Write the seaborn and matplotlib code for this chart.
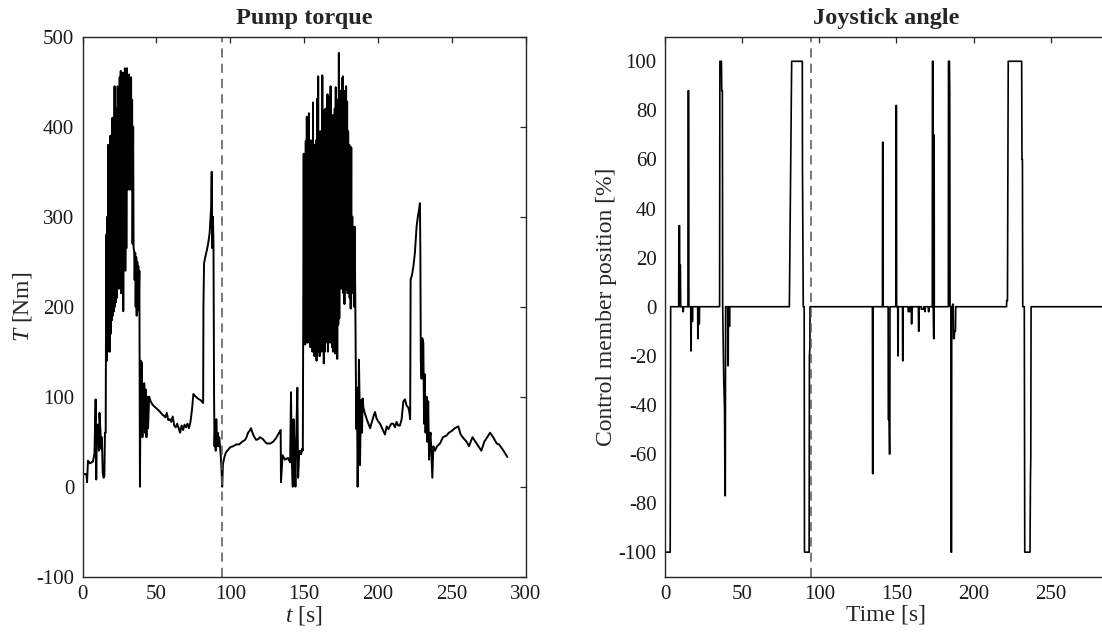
import numpy as np
import pandas as pd
import matplotlib
matplotlib.use('Agg')
import matplotlib.pyplot as plt
import seaborn as sns

sns.set_style('white')
plt.rcParams['font.family'] = ['Liberation Serif', 'DejaVu Serif']
plt.rcParams['mathtext.fontset'] = 'custom'
plt.rcParams['mathtext.rm'] = 'Liberation Serif'
plt.rcParams['mathtext.it'] = 'Liberation Serif:italic'
plt.rcParams['axes.unicode_minus'] = False

# ---- pump torque ----
t_start = [0, 2.5, 3.0, 3.6, 5.0, 7.0, 8.0, 8.8, 9.2, 9.6, 10.3, 11.0, 11.4, 12.0, 12.5, 13.0, 13.6, 14.2, 14.7, 15.1]
T_start = [14, 14, 5, 29, 26, 28, 37, 97, 8, 60, 69, 40, 82, 64, 42, 55, 15, 10, 12, 60]

t_burst1 = [15.6, 16.0, 16.3, 16.7, 17.0, 17.4, 17.7, 18.1, 18.4, 18.8, 19.1, 19.5, 19.8, 20.2, 20.5,
            20.9, 21.2, 21.6, 21.9, 22.3, 22.6, 23.0, 23.3, 23.7, 24.0, 24.4, 24.7, 25.1, 25.4, 25.8,
            26.1, 26.5, 26.8, 27.2, 27.5, 27.9, 28.2, 28.6, 28.9, 29.3, 29.6, 30.0, 30.3, 30.7, 31.0,
            31.4, 31.7, 32.1, 32.4, 32.8, 33.1, 33.5, 33.8, 34.2, 34.5, 34.9, 35.2, 35.6, 35.9, 36.3,
            36.6, 37.0, 37.3, 37.7, 38.0, 38.4]
T_burst1 = [60, 280, 140, 300, 150, 380, 160, 340, 150, 390, 170, 360, 185, 410, 190,
            380, 195, 445, 200, 400, 205, 420, 210, 445, 230, 430, 220, 455, 240, 462,
            215, 440, 230, 460, 195, 450, 250, 465, 240, 455, 265, 465, 330, 450, 335,
            458, 330, 448, 340, 455, 330, 430, 270, 400, 265, 262, 230, 260, 200, 255,
            190, 250, 210, 245, 196, 240]

t_mid1 = [38.8, 39.3, 39.7, 40.1, 40.5, 40.9, 41.3, 41.7, 42.2, 42.7, 43.2, 43.8, 44.3, 45, 46, 47, 48,
          50, 52, 53, 54, 55, 56, 57, 58, 59, 60, 61, 62, 63, 64, 65, 66, 67, 68, 69, 70, 71, 72,
          73, 74, 75, 76, 78, 80, 81.6]
T_mid1 = [0, 140, 60, 138, 55, 110, 70, 115, 60, 108, 55, 100, 65, 100, 95, 92, 90,
          87, 84, 82, 80, 79, 77, 82, 74, 75, 72, 78, 68, 66, 70, 65, 60, 68, 63, 69, 66, 70, 65,
          72, 85, 103, 101, 98, 96, 93]

t_peak1 = [81.8, 82.2, 83, 84, 85, 86, 86.6, 87.0, 87.4, 87.8, 88.2, 88.6, 89.0, 89.3, 89.7, 90.1,
           90.5, 91.0, 91.5, 92.0, 92.5, 93.0, 93.5, 94.0, 94.5]
T_peak1 = [200, 248, 255, 262, 270, 282, 300, 310, 350, 265, 300, 270, 100, 45, 70, 40,
           75, 45, 60, 45, 55, 45, 35, 20, 0]

t_mid2 = [95, 96, 97, 98, 100, 102, 104, 106, 108, 110, 111, 112, 113, 114, 115, 116, 117.5, 119,
          120, 121, 122, 123, 124, 125, 127, 129, 131, 133, 134.1,
          134.3, 135.4, 137, 139, 140.5, 141.1, 141.6, 142.3, 142.8, 143.5, 144.1, 144.7, 145.4,
          145.9, 146.6, 147.2, 148, 148.6, 149.1]
T_mid2 = [25, 33, 38, 40, 44, 45, 47, 47, 50, 52, 55, 60, 62, 65, 60, 56, 52, 53,
          55, 54, 53, 51, 49, 48, 48, 50, 54, 60, 63,
          5, 35, 30, 32, 27, 105, 30, 0, 75, 40, 0, 60, 110,
          10, 35, 40, 36, 42, 40]

t_burst2 = [149.7, 150.0, 150.4, 150.7, 151.1, 151.4, 151.8, 152.1, 152.5, 152.8, 153.2, 153.5,
            153.9, 154.2, 154.6, 154.9, 155.3, 155.6, 156.0, 156.3, 156.7, 157.0, 157.4, 157.7,
            158.1, 158.4, 158.8, 159.1, 159.5, 159.8, 160.2, 160.5, 160.9, 161.2, 161.6, 161.9,
            162.3, 162.6, 163.0, 163.3, 163.7, 164.0, 164.4, 164.7, 165.1, 165.4, 165.8, 166.1,
            166.5, 166.8, 167.2, 167.5, 167.9, 168.2, 168.6, 168.9, 169.3, 169.6, 170.0, 170.3,
            170.7, 171.0, 171.4, 171.7, 172.1, 172.4, 172.8, 173.1, 173.5, 173.8, 174.2, 174.5,
            174.9, 175.2, 175.6, 175.9, 176.3, 176.6, 177.0, 177.3, 177.7, 178.0, 178.4, 178.7,
            179.1, 179.4, 179.8, 180.1, 180.5, 180.8, 181.2, 181.5, 181.9, 182.2, 182.6, 183.0,
            183.3, 183.7, 184.2, 184.6]
T_burst2 = [370, 165, 360, 158, 384, 170, 411, 160, 380, 175, 415, 160,
            375, 155, 385, 170, 378, 150, 427, 160, 380, 145, 370, 165,
            385, 140, 431, 155, 456, 150, 380, 145, 395, 160, 385, 150,
            457, 155, 418, 137, 390, 150, 420, 160, 400, 165, 436, 150,
            395, 170, 433, 160, 445, 165, 400, 155, 413, 150, 390, 160,
            420, 148, 444, 155, 430, 142, 410, 180, 482, 187, 440, 225,
            420, 220, 454, 230, 456, 215, 430, 203, 440, 225, 445, 220,
            428, 215, 395, 225, 380, 210, 378, 198, 377, 215, 300, 230,
            286, 200, 289, 214]

t_mid3 = [185.3, 185.8, 186.2, 186.7, 187.1, 187.5, 187.8, 188.5, 189.2, 189.6, 190.1, 191, 192.4,
          193.5, 194.7, 195.5, 196.4, 197.3, 198, 199, 200, 201.4, 202.5, 203.6, 204.7, 205.9, 207,
          208, 209, 210.4, 211.5, 212.6, 213.7, 214.9, 216, 217.2, 218.3, 219.4, 220.5, 221.2, 221.8]
T_mid3 = [64, 110, 0, 70, 141, 100, 24, 96, 60, 98, 88, 82, 75,
          70, 65, 70, 75, 80, 83, 76, 73, 70, 66, 62, 58, 67, 64,
          67, 70, 70, 66, 72, 68, 68, 75, 95, 97, 90, 88, 83, 75]

t_end = [222.1, 223, 224, 225, 226.2, 227, 228, 228.4, 228.7, 229.0, 229.5, 230.0, 230.7, 231.2,
         231.7, 232.2, 232.9, 233.4, 234.0, 234.6, 235.2, 235.6, 236.2, 236.8, 237.5, 238.6, 240,
         242, 244, 246.5, 248, 250, 252, 254.4, 256, 257.8, 260, 261.6, 264, 266, 268, 270, 272,
         274, 275.9, 278, 280.4, 282, 285, 287.6]
T_end = [230, 235, 245, 260, 290, 300, 310, 315, 260, 140, 120, 165, 160, 70,
         125, 60, 100, 50, 95, 30, 55, 60, 35, 10, 45, 40, 45,
         48, 55, 57, 60, 62, 65, 67, 58, 54, 50, 45, 55, 50, 45, 40, 50,
         55, 60, 55, 48, 47, 40, 33]

# ---- joystick angle ----
t_joy = [0, 0.2, 3.4, 3.7, 8.9, 9.0, 9.5, 9.6, 9.7, 10.0, 10.2, 11.5, 11.6, 11.9, 12.0,
         14.9, 15.0, 15.4, 15.5, 16.7, 16.8, 17.0, 17.1, 17.6, 17.7, 17.9, 18.0,
         21.2, 21.3, 21.5, 21.6, 22.0, 22.1, 22.3, 22.4,
         35.4, 35.6, 36.6, 36.8, 37.2, 37.4, 38.1, 38.6, 38.9, 39.1, 39.3,
         40.6, 40.7, 41.0, 41.1, 41.6, 41.7, 41.9, 42.0,
         80.6, 82.1, 89.0, 89.1, 89.6, 90.2, 90.4, 93.4, 93.6, 93.9, 94.0,
         134.4, 134.5, 134.8, 134.9, 140.9, 141.0, 141.3, 141.4,
         144.6, 144.7, 145.2, 145.4, 145.7, 145.8, 149.6, 149.7, 150.0, 150.1,
         150.8, 150.9, 151.1, 151.2, 153.9, 154.0, 154.2, 154.3,
         157.5, 157.6, 158.5, 158.6, 159.6, 159.7, 159.9, 160.0, 160.4,
         164.2, 164.3, 164.5, 164.6, 166.0, 166.1, 167.5, 167.6, 168.3, 168.4, 168.6,
         170.6, 170.7, 171.0, 171.1,
         173.2, 173.3, 173.7, 173.8, 174.1, 174.3, 174.4, 174.5,
         183.6, 183.7, 184.3, 184.5, 184.7, 185.3, 185.4, 185.7, 185.8,
         186.3, 186.4, 186.8, 187.0, 187.4, 187.6, 188.2, 188.4,
         221.3, 221.4, 221.9, 222.4, 231.1, 231.3, 231.6, 231.8, 232.8, 233.1, 236.5, 236.8,
         237.0, 237.2, 287]
v_joy = [-100, -100, -100, 0, 0, 33, 33, 0, 17, 17, 0, 0, -2, -2, 0,
         0, 88, 88, 0, 0, -18, -18, 0, 0, -6, -6, 0,
         0, -13, -13, 0, 0, -7, -7, 0,
         0, 100, 100, 88, 88, 0, -30, -42, -77, -77, 0,
         0, -24, -24, 0, 0, -8, -8, 0,
         0, 100, 100, 57, 0, 0, -100, -100, -20, -17, 0,
         0, -68, -68, 0, 0, 67, 67, 0,
         0, -46, -46, -60, -60, 0, 0, 82, 82, 0,
         0, -20, -20, 0, 0, -22, -22, 0,
         0, -2, -2, 0, 0, -7, -7, -2, 0,
         0, -10, -10, 0, 0, -1, -1, 0, 0, -2, 0,
         0, -2, -2, 0,
         0, 100, 100, 0, -13, -13, 70, 0,
         0, 100, 100, 87, 0, 0, -100, -100, 0,
         0, 1, 1, -13, -13, -10, -10, 0,
         0, 2.5, 2.5, 100, 100, 60, 60, 0, 0, -100, -100, -70,
         -62, 0, 0]

t_event = 94.5

torque = pd.DataFrame({
    't': t_start + t_burst1 + t_mid1 + t_peak1 + t_mid2 + t_burst2 + t_mid3 + t_end,
    'T': T_start + T_burst1 + T_mid1 + T_peak1 + T_mid2 + T_burst2 + T_mid3 + T_end,
})
joy = pd.DataFrame({'t': t_joy, 'v': v_joy})

fig = plt.figure(figsize=(11.02, 6.41), dpi=100)
ax1 = fig.add_axes([0.0750, 0.1003, 0.4020, 0.8424])
ax2 = fig.add_axes([0.6034, 0.1003, 0.4020, 0.8424])

sns.lineplot(data=torque, x='t', y='T', ax=ax1, color='black', linewidth=1.4,
             sort=False, estimator=None)
sns.lineplot(data=joy, x='t', y='v', ax=ax2, color='black', linewidth=1.2,
             sort=False, estimator=None)

spine_col = '#262626'
for ax in (ax1, ax2):
    ax.axvline(t_event, color='#555555', linewidth=1.1, linestyle=(0, (6, 4)))
    ax.tick_params(direction='in', top=True, right=True, length=4.5, width=0.9, pad=6,
                   colors=spine_col, labelsize=15, labelcolor='#1a1a1a')
    for s in ax.spines.values():
        s.set_color(spine_col)
        s.set_linewidth(1.0)
        s.set_visible(True)

ax1.set_xlim(0, 300)
ax1.set_ylim(-100, 500)
ax1.set_xticks(range(0, 301, 50))
ax1.set_yticks(range(-100, 501, 100))
ax1.set_xlabel(r'$t$ [s]', fontsize=17, labelpad=0)
ax1.set_ylabel(r'$T$ [Nm]', fontsize=17, labelpad=2)
ax1.set_title('Pump torque', fontsize=17.5, fontweight='bold', pad=9)

ax2.set_xlim(0, 287)
ax2.set_ylim(-110, 110)
ax2.set_xticks(range(0, 251, 50))
ax2.set_yticks(range(-100, 101, 20))
ax2.set_xlabel('Time [s]', fontsize=17, labelpad=0)
ax2.set_ylabel('Control member position [%]', fontsize=17, labelpad=1)
ax2.set_title('Joystick angle', fontsize=17.5, fontweight='bold', pad=9)

fig.savefig('out.png', dpi=100)
